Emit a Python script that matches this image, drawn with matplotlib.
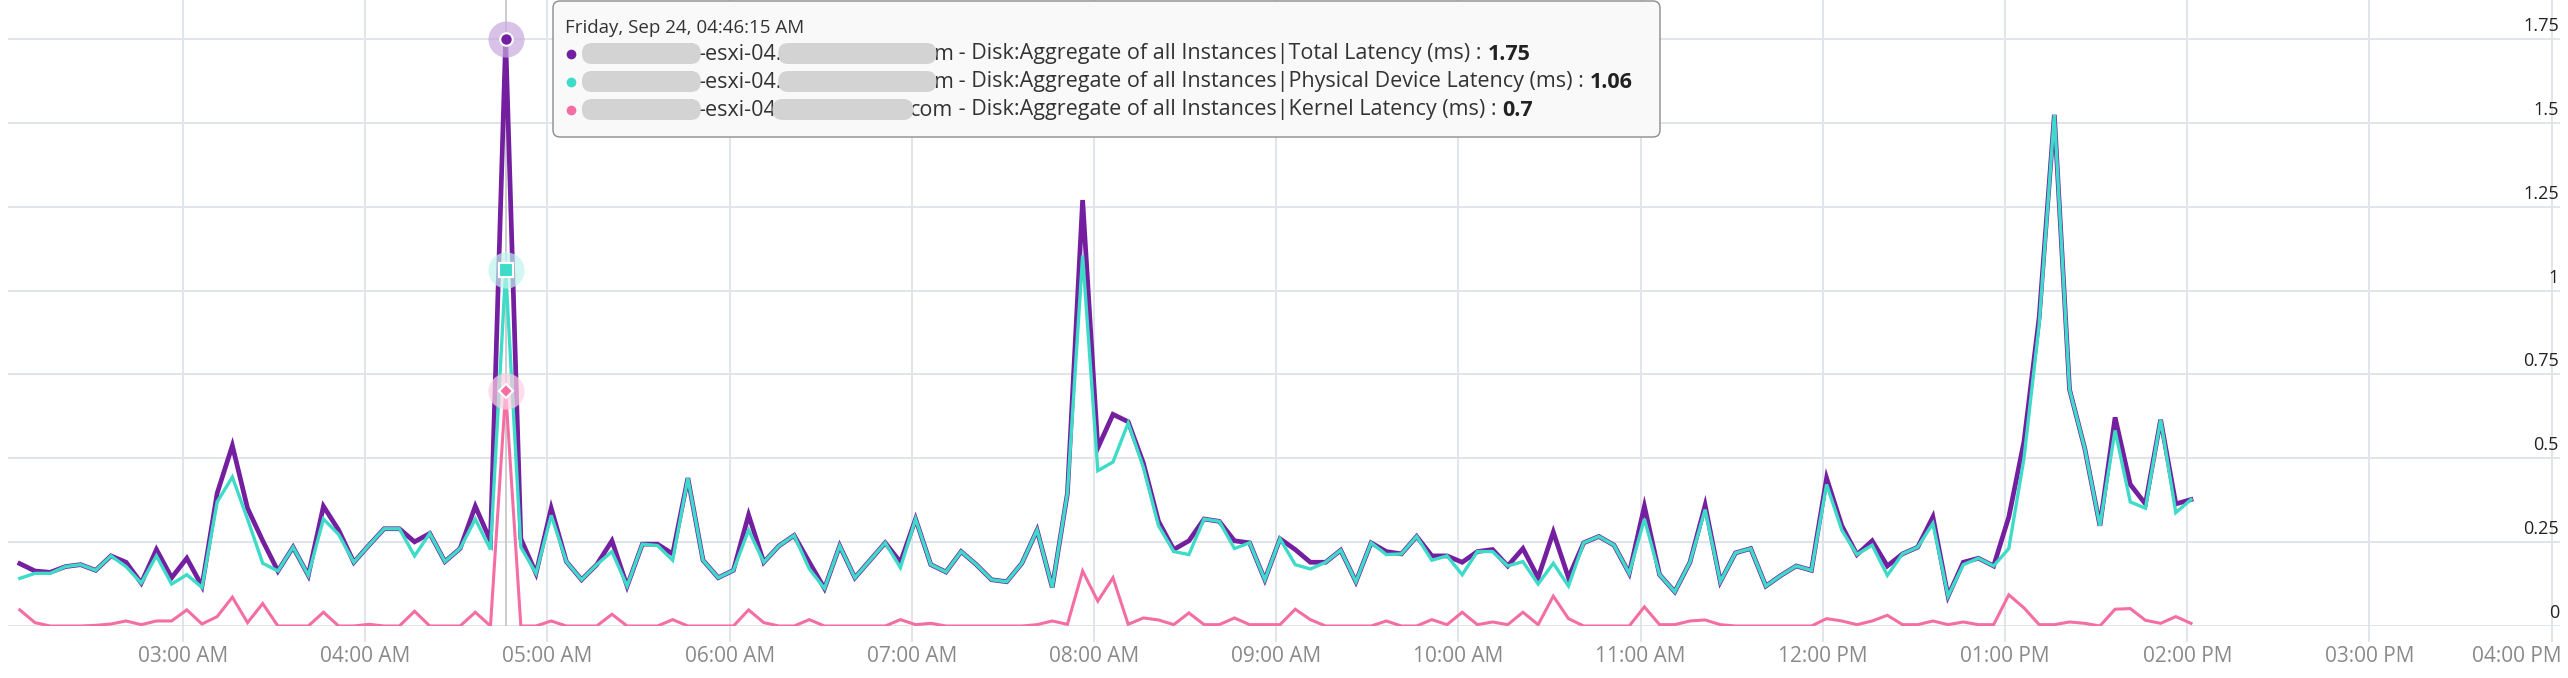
import matplotlib
matplotlib.use("Agg")
import matplotlib.pyplot as plt
import matplotlib.dates as mdates
import pandas as pd
from matplotlib import transforms
from matplotlib.patches import FancyBboxPatch

plt.rcParams['font.family'] = ['Open Sans', 'DejaVu Sans']

# 5-minute samples, Friday Sep 24
times = pd.date_range('2021-09-24 02:06:15', periods=144, freq='5min')

total_latency = [
    0.186, 0.164, 0.160, 0.177, 0.183, 0.166, 0.209, 0.190, 0.128, 0.228,
    0.144, 0.202, 0.119, 0.396, 0.538, 0.351, 0.254, 0.164, 0.235, 0.151,
    0.357, 0.286, 0.190, 0.241, 0.290, 0.290, 0.251, 0.276, 0.192, 0.231,
    0.357, 0.254, 1.750, 0.260, 0.157, 0.351, 0.192, 0.138, 0.183, 0.254,
    0.119, 0.244, 0.244, 0.215, 0.441, 0.196, 0.144, 0.166, 0.331, 0.190,
    0.239, 0.270, 0.190, 0.112, 0.239, 0.144, 0.196, 0.248, 0.190, 0.319,
    0.183, 0.161, 0.222, 0.183, 0.138, 0.132, 0.187, 0.286, 0.115, 0.396,
    1.270, 0.531, 0.631, 0.609, 0.486, 0.312, 0.228, 0.254, 0.319, 0.312,
    0.254, 0.248, 0.138, 0.260, 0.228, 0.190, 0.190, 0.226, 0.132, 0.248,
    0.222, 0.215, 0.267, 0.209, 0.209, 0.190, 0.222, 0.228, 0.179, 0.231,
    0.144, 0.280, 0.144, 0.248, 0.267, 0.241, 0.157, 0.357, 0.153, 0.102,
    0.190, 0.360, 0.132, 0.218, 0.231, 0.119, 0.151, 0.179, 0.166, 0.441,
    0.299, 0.213, 0.254, 0.179, 0.215, 0.235, 0.325, 0.089, 0.190, 0.202,
    0.179, 0.325, 0.550, 0.920, 1.524, 0.705, 0.530, 0.299, 0.622, 0.422,
    0.364, 0.615, 0.364, 0.377,
]
physical_latency = [
    0.142, 0.157, 0.157, 0.177, 0.183, 0.166, 0.209, 0.177, 0.128, 0.209,
    0.125, 0.153, 0.115, 0.370, 0.444, 0.319, 0.187, 0.164, 0.235, 0.151,
    0.319, 0.273, 0.190, 0.241, 0.290, 0.290, 0.209, 0.276, 0.192, 0.231,
    0.319, 0.228, 1.060, 0.235, 0.157, 0.330, 0.192, 0.138, 0.183, 0.222,
    0.119, 0.244, 0.240, 0.196, 0.441, 0.196, 0.144, 0.166, 0.286, 0.190,
    0.239, 0.270, 0.170, 0.112, 0.239, 0.144, 0.196, 0.248, 0.174, 0.319,
    0.183, 0.161, 0.222, 0.183, 0.138, 0.132, 0.187, 0.286, 0.115, 0.396,
    1.105, 0.463, 0.489, 0.605, 0.473, 0.299, 0.222, 0.213, 0.319, 0.312,
    0.231, 0.248, 0.138, 0.260, 0.183, 0.170, 0.190, 0.226, 0.132, 0.248,
    0.213, 0.215, 0.267, 0.196, 0.209, 0.153, 0.222, 0.222, 0.179, 0.192,
    0.125, 0.187, 0.119, 0.248, 0.267, 0.241, 0.157, 0.319, 0.153, 0.102,
    0.190, 0.347, 0.132, 0.218, 0.231, 0.119, 0.151, 0.179, 0.166, 0.422,
    0.286, 0.213, 0.241, 0.151, 0.215, 0.235, 0.306, 0.089, 0.183, 0.202,
    0.179, 0.231, 0.500, 0.899, 1.524, 0.705, 0.530, 0.299, 0.583, 0.370,
    0.351, 0.615, 0.338, 0.377,
]
kernel_latency = [
    0.048, 0.010, 0.000, 0.000, 0.000, 0.002, 0.006, 0.015, 0.004, 0.015,
    0.015, 0.048, 0.006, 0.028, 0.086, 0.010, 0.067, 0.000, 0.000, 0.000,
    0.041, 0.000, 0.000, 0.005, 0.000, 0.000, 0.044, 0.000, 0.000, 0.000,
    0.041, 0.000, 0.700, 0.000, 0.000, 0.015, 0.000, 0.000, 0.000, 0.035,
    0.000, 0.000, 0.000, 0.019, 0.000, 0.000, 0.000, 0.000, 0.048, 0.010,
    0.000, 0.000, 0.019, 0.000, 0.000, 0.000, 0.000, 0.000, 0.019, 0.004,
    0.008, 0.000, 0.000, 0.000, 0.000, 0.000, 0.000, 0.004, 0.015, 0.005,
    0.164, 0.074, 0.144, 0.005, 0.024, 0.018, 0.004, 0.039, 0.004, 0.004,
    0.024, 0.004, 0.004, 0.004, 0.050, 0.019, 0.000, 0.000, 0.000, 0.000,
    0.015, 0.000, 0.000, 0.019, 0.004, 0.041, 0.004, 0.012, 0.004, 0.041,
    0.004, 0.089, 0.022, 0.000, 0.000, 0.000, 0.000, 0.057, 0.004, 0.004,
    0.015, 0.018, 0.004, 0.000, 0.000, 0.000, 0.000, 0.000, 0.000, 0.022,
    0.015, 0.004, 0.015, 0.032, 0.004, 0.004, 0.015, 0.004, 0.012, 0.004,
    0.004, 0.093, 0.054, 0.004, 0.004, 0.012, 0.008, 0.000, 0.050, 0.052,
    0.017, 0.008, 0.028, 0.008,
]

hover_index = 32
y_ticks = [0, 0.25, 0.5, 0.75, 1, 1.25, 1.5, 1.75]
x_ticks = pd.date_range('2021-09-24 03:00', '2021-09-24 16:00', freq='1h')

series = [
    ('Total Latency', total_latency, '#731fa0', 3.4, '#c9a9de', 'o', 9),
    ('Physical Device Latency', physical_latency, '#3ddbc8', 2.4, '#bff3ec', 's', 10),
    ('Kernel Latency', kernel_latency, '#f46ea4', 2.2, '#fbcfe1', 'D', 7),
]

grid_color = '#e1e4e8'

fig = plt.figure(figsize=(25.68, 6.78), dpi=100)
ax = fig.add_axes([8 / 2568, 52 / 678, 2552 / 2568, 626 / 678])
for side in ax.spines.values():
    side.set_visible(False)

for name, vals, color, lw, halo, mk, ms in series:
    ax.plot(times, vals, color=color, lw=lw, solid_joinstyle='miter', zorder=3)

# hover cross-hair and highlighted points
t_hover = times[hover_index]
ax.axvline(t_hover, color='#c9c9c9', lw=1.3, zorder=2.5)
for name, vals, color, lw, halo, mk, ms in series:
    ax.plot([t_hover], [vals[hover_index]], 'o', ms=26, color=halo,
            alpha=0.7, mec='none', zorder=4)
for name, vals, color, lw, halo, mk, ms in series:
    ax.plot([t_hover], [vals[hover_index]], mk, ms=ms, color=color,
            mec='white', mew=1.5, zorder=5)

ax.set_xlim(pd.Timestamp('2021-09-24 02:02:22'), pd.Timestamp('2021-09-24 16:02:46'))
ax.set_ylim(0, 626 / 335.4)
ax.set_xticks(x_ticks)
ax.xaxis.set_major_formatter(mdates.DateFormatter('%I:%M %p'))
ax.set_yticks(y_ticks)
ax.tick_params(axis='y', length=0, labelleft=False)
ax.tick_params(axis='x', length=11.5, width=1.4, color=grid_color,
               labelcolor='#8a8a8a', labelsize=15, pad=3)
ax.grid(True, color=grid_color, lw=1.4, zorder=0)
ax.set_axisbelow(True)

ylab_tr = transforms.offset_copy(ax.get_yaxis_transform(), fig=fig, x=-1, y=4, units='dots')
for v in y_ticks:
    ax.text(1.0, v, f'{v:g}', transform=ylab_tr, ha='right', va='bottom',
            fontsize=13, color='#222222')

fig.canvas.draw()
last = ax.get_xticklabels()[-1]
last.set_horizontalalignment('right')
last.set_transform(last.get_transform() +
                   transforms.ScaledTranslation(10 / 100, 0, fig.dpi_scale_trans))

# tooltip overlay in pixel coordinates
ov = fig.add_axes([0, 0, 1, 1])
ov.set_xlim(0, 2568)
ov.set_ylim(678, 0)
ov.axis('off')
ov.set_zorder(10)

ov.add_patch(FancyBboxPatch((553, 1), 1107, 136,
                            boxstyle='round,pad=0,rounding_size=7',
                            fc='#f9f9f9', ec='#8c8c8c', lw=1))
ov.text(565, 28, 'Friday, Sep 24, 04:46:15 AM', fontsize=13.5, color='#333333', va='center')

renderer = fig.canvas.get_renderer()


def put(x, y, s, color='#333333', **kw):
    t = ov.text(x, y, s, va='center', ha='left', fontsize=15.5, color=color, **kw)
    return x + t.get_window_extent(renderer=renderer).width


def blob(x0, x1, y):
    ov.add_patch(FancyBboxPatch((x0 - 3, y - 11), x1 - x0 + 6, 21,
                                boxstyle='round,pad=0,rounding_size=10',
                                fc='#d3d3d3', ec='none', zorder=5))


row_parts = [
    [('sc2-prod20', True), ('-esxi-04.', False), ('eng.vmware.co', True), ('m', False)],
    [('sc2-prod20', True), ('-esxi-04.', False), ('eng.vmware.co', True), ('m', False)],
    [('sc2-prod20', True), ('-esxi-04', False), ('.eng.vmware.', True), ('com', False)],
]
row_y = [54, 82, 110]
for (name, vals, color, lw, halo, mk, ms), parts, y in zip(series, row_parts, row_y):
    ov.plot([571], [y], 'o', ms=7, color=color, mec='none')
    x = 585
    for s, hidden in parts:
        x1 = put(x, y, s)
        if hidden:
            blob(x, x1, y)
        x = x1
    x = put(x, y, ' - Disk:Aggregate of all Instances|' + name + ' (ms) : ')
    put(x, y, f'{vals[hover_index]:g}', color='#222222', fontweight='bold')

fig.savefig('out.png', dpi=100)
